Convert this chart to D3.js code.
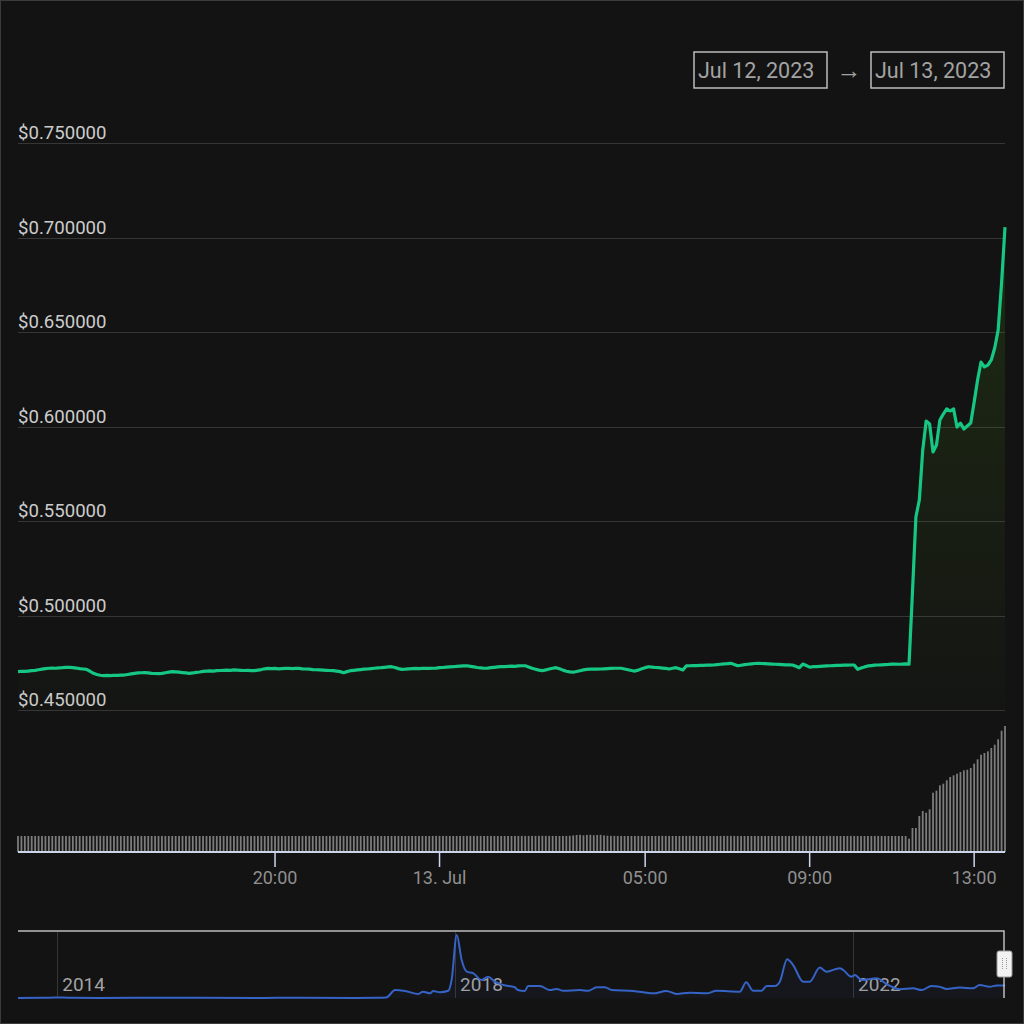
<!DOCTYPE html>
<html>
<head>
<meta charset="utf-8">
<script src="https://cdn.jsdelivr.net/npm/d3@7"></script>
<style>
  html, body { margin: 0; padding: 0; background: #131313; }
  svg { display: block; font-family: Roboto, "Noto Sans", sans-serif; }
</style>
</head>
<body>
<div id="chart"></div>
<script>
// 5 minute samples, Jul 12 13:45 -> Jul 13 13:45
var startTime = new Date(2023, 6, 12, 13, 45);
var stepMinutes = 5;

var prices = [
  0.4703, 0.4705, 0.4704, 0.4706, 0.4708, 0.4710, 0.4713, 0.4716, 0.4719, 0.4721, 0.4722, 0.4721,
  0.4723, 0.4724, 0.4726, 0.4726, 0.4724, 0.4722, 0.4719, 0.4717, 0.4715, 0.4705, 0.4694, 0.4688,
  0.4684, 0.4682, 0.4683, 0.4682, 0.4684, 0.4683, 0.4685, 0.4685, 0.4688, 0.4691, 0.4694, 0.4696,
  0.4697, 0.4698, 0.4696, 0.4694, 0.4693, 0.4692, 0.4694, 0.4697, 0.4700, 0.4703, 0.4702, 0.4700,
  0.4698, 0.4696, 0.4694, 0.4696, 0.4699, 0.4701, 0.4704, 0.4706, 0.4707, 0.4706, 0.4708, 0.4709,
  0.4710, 0.4711, 0.4710, 0.4712, 0.4711, 0.4710, 0.4709, 0.4710, 0.4708, 0.4708, 0.4711, 0.4714,
  0.4718, 0.4720, 0.4719, 0.4720, 0.4718, 0.4719, 0.4720, 0.4721, 0.4719, 0.4720, 0.4720, 0.4718,
  0.4717, 0.4716, 0.4714, 0.4713, 0.4712, 0.4711, 0.4710, 0.4709, 0.4708, 0.4706, 0.4703, 0.4697,
  0.4703, 0.4708, 0.4710, 0.4712, 0.4714, 0.4716, 0.4717, 0.4719, 0.4721, 0.4723, 0.4724, 0.4726,
  0.4728, 0.4729, 0.4725, 0.4719, 0.4715, 0.4716, 0.4718, 0.4719, 0.4720, 0.4719, 0.4720, 0.4721,
  0.4720, 0.4721, 0.4722, 0.4724, 0.4725, 0.4727, 0.4728, 0.4729, 0.4731, 0.4732, 0.4733, 0.4734,
  0.4731, 0.4728, 0.4725, 0.4723, 0.4721, 0.4722, 0.4724, 0.4726, 0.4728, 0.4729, 0.4730, 0.4731,
  0.4732, 0.4731, 0.4733, 0.4734, 0.4734, 0.4728, 0.4721, 0.4716, 0.4711, 0.4708, 0.4712, 0.4717,
  0.4721, 0.4724, 0.4718, 0.4711, 0.4705, 0.4702, 0.4700, 0.4704, 0.4708, 0.4712, 0.4715, 0.4716,
  0.4717, 0.4716, 0.4717, 0.4718, 0.4719, 0.4720, 0.4721, 0.4721, 0.4721, 0.4717, 0.4713, 0.4709,
  0.4706, 0.4711, 0.4718, 0.4724, 0.4729, 0.4727, 0.4725, 0.4724, 0.4722, 0.4720, 0.4717, 0.4721,
  0.4724, 0.4718, 0.4712, 0.4733, 0.4734, 0.4735, 0.4735, 0.4736, 0.4736, 0.4737, 0.4737, 0.4738,
  0.4740, 0.4742, 0.4744, 0.4745, 0.4747, 0.4741, 0.4734, 0.4737, 0.4740, 0.4742, 0.4744, 0.4746,
  0.4747, 0.4746, 0.4745, 0.4744, 0.4743, 0.4742, 0.4741, 0.4740, 0.4739, 0.4739, 0.4738, 0.4731,
  0.4724, 0.4743, 0.4735, 0.4727, 0.4729, 0.4730, 0.4731, 0.4732, 0.4733, 0.4734, 0.4735, 0.4736,
  0.4736, 0.4737, 0.4737, 0.4738, 0.4738, 0.4715, 0.4722, 0.4728, 0.4733, 0.4735, 0.4737, 0.4738,
  0.4739, 0.4740, 0.4741, 0.4743, 0.4743, 0.4742, 0.4743, 0.4744, 0.4743,
  0.5124, 0.5521, 0.5611, 0.5876, 0.6029, 0.6013, 0.5865, 0.5902, 0.6034, 0.6066, 0.6093, 0.6082,
  0.6093, 0.5997, 0.6018, 0.5987, 0.6003, 0.6018, 0.6129, 0.6246, 0.6341, 0.6315, 0.6325, 0.6352,
  0.6415, 0.6510, 0.6759, 0.7055
];

// 24h volume, millions USD
var volumes = [
  700, 702, 701, 703, 700, 699, 701, 702, 700, 698, 700, 701, 703, 702, 700, 699, 700, 701, 702, 700,
  701, 703, 706, 708, 707, 705, 704, 703, 702, 701, 700, 701, 700, 699, 700, 701, 702, 701, 700, 699,
  700, 701, 702, 701, 700, 699, 700, 701, 700, 702, 703, 702, 701, 700, 699, 700, 701, 700, 701, 702,
  703, 702, 701, 700, 699, 698, 697, 698, 699, 700, 701, 700, 699, 700, 701, 702, 701, 700, 699, 698,
  699, 700, 701, 702, 703, 702, 701, 700, 699, 700, 701, 702, 703, 704, 705, 704, 703, 702, 701, 700,
  701, 702, 703, 702, 701, 700, 699, 700, 701, 702, 703, 702, 701, 700, 699, 700, 701, 702, 701, 700,
  701, 702, 703, 704, 703, 702, 701, 700, 701, 702, 703, 704, 705, 704, 703, 702, 701, 702, 703, 702,
  701, 700, 699, 700, 701, 702, 703, 704, 703, 702, 703, 705, 707, 708, 706, 704, 703, 702, 701, 702,
  704, 708, 725, 745, 750, 730, 748, 752, 735, 745, 750, 725, 712, 706, 704, 703, 702, 701, 700, 701,
  702, 703, 702, 701, 700, 701, 702, 703, 704, 703, 702, 701, 700, 701, 702, 703, 704, 703, 702, 701,
  700, 699, 700, 701, 702, 703, 704, 705, 704, 703, 702, 701, 700, 701, 702, 701, 700, 699, 700, 701,
  702, 703, 702, 701, 700, 701, 702, 703, 704, 703, 702, 701, 700, 699, 700, 701, 702, 703, 702, 701,
  700, 701, 702, 703, 702, 701, 700, 699, 700, 701, 702, 703, 702, 701, 700, 701, 702, 701, 700, 699,
  582, 1050, 1050, 1575, 1794, 1719, 1868, 2594, 2682, 2918, 2988, 3137, 3281, 3355, 3425, 3500,
  3574, 3600, 3675, 3863, 4055, 4256, 4331, 4405, 4550, 4694, 4930, 5306, 5512
];

var priceTicks = [0.45, 0.50, 0.55, 0.60, 0.65, 0.70, 0.75];
var timeTicks = [
  new Date(2023, 6, 12, 20, 0),
  new Date(2023, 6, 13, 0, 0),
  new Date(2023, 6, 13, 5, 0),
  new Date(2023, 6, 13, 9, 0),
  new Date(2023, 6, 13, 13, 0)
];
var rangeLabels = ["Jul 12, 2023", "Jul 13, 2023"];

// navigator: full history
var navDates = [
  "2013-08-10", "2013-11-15", "2013-12-20", "2014-02-10", "2014-06-01", "2015-01-10", "2015-06-01",
  "2016-01-01", "2016-06-01", "2017-01-01", "2017-03-20", "2017-04-23", "2017-05-26", "2017-07-01",
  "2017-08-19", "2017-09-05", "2017-10-01", "2017-10-12", "2017-11-06", "2017-12-07", "2017-12-19",
  "2018-01-07", "2018-01-25", "2018-02-13", "2018-03-08", "2018-04-08", "2018-05-02", "2018-05-27",
  "2018-06-27", "2018-08-08", "2018-08-19", "2018-09-14", "2018-09-26", "2018-11-08", "2018-12-15",
  "2019-01-09", "2019-02-02", "2019-04-04", "2019-05-05", "2019-06-05", "2019-07-05", "2019-07-30",
  "2019-10-17", "2019-12-29", "2020-02-16", "2020-03-24", "2020-05-12", "2020-07-12", "2020-08-18",
  "2020-11-11", "2020-12-05", "2020-12-30", "2021-01-30", "2021-02-18", "2021-03-20", "2021-04-07",
  "2021-05-04", "2021-05-26", "2021-07-02", "2021-07-26", "2021-09-01", "2021-09-26", "2021-11-13",
  "2021-11-26", "2021-12-26", "2022-01-08", "2022-02-01", "2022-03-28", "2022-05-10", "2022-06-22",
  "2022-08-10", "2022-09-10", "2022-10-16", "2022-11-15", "2022-12-10", "2023-01-28", "2023-03-17",
  "2023-04-11", "2023-05-18", "2023-06-12", "2023-07-06", "2023-07-13"
];
var navPrices = [
  0.006, 0.008, 0.03, 0.02, 0.006, 0.02, 0.01,
  0.006, 0.008, 0.006, 0.01, 0.03, 0.43, 0.38,
  0.22, 0.34, 0.25, 0.38, 0.31, 0.39, 0.97,
  3.40, 2.05, 1.42, 1.34, 0.97, 1.15, 0.88,
  0.70, 0.58, 0.43, 0.38, 0.65, 0.65, 0.43,
  0.49, 0.39, 0.43, 0.39, 0.58, 0.58, 0.43,
  0.38, 0.25, 0.38, 0.22, 0.29, 0.25, 0.39,
  0.34, 0.85, 0.39, 0.39, 0.65, 0.65, 0.88,
  2.09, 1.78, 0.88, 0.88, 1.64, 1.42, 1.61,
  1.51, 1.15, 1.24, 0.97, 1.06, 0.70, 0.47,
  0.52, 0.43, 0.65, 0.61, 0.49, 0.56, 0.52,
  0.70, 0.61, 0.67, 0.67, 0.70
];
var navYears = [2014, 2018, 2022];

var width = 1024,
    height = 1024,
    left = 18,
    right = 1005;

var data = prices.map(function (p, i) {
  return { t: d3.timeMinute.offset(startTime, i * stepMinutes), price: p, vol: volumes[i] };
});

var parseDay = d3.timeParse("%Y-%m-%d");
var navData = navDates.map(function (d, i) { return { t: parseDay(d), price: navPrices[i] }; });

var svg = d3.select("#chart").append("svg")
    .attr("width", width)
    .attr("height", height);

svg.append("rect")
    .attr("x", 0.5).attr("y", 0.5)
    .attr("width", width - 1).attr("height", height - 1)
    .attr("fill", "#131313")
    .attr("stroke", "#3c3c3c");

var x = d3.scaleTime()
    .domain(d3.extent(data, function (d) { return d.t; }))
    .range([left, right]);

var y = d3.scaleLinear()
    .domain([0.45, 0.75])
    .range([710, 143]);

var yVol = d3.scaleLinear()
    .domain([0, 5600])
    .range([852, 724]);

/* ------- grid + price labels ------- */
var grid = svg.append("g");
grid.selectAll("line")
    .data(priceTicks)
    .enter().append("line")
    .attr("x1", left).attr("x2", right)
    .attr("y1", function (d) { return Math.round(y(d)) + 0.5; })
    .attr("y2", function (d) { return Math.round(y(d)) + 0.5; })
    .attr("stroke", "#363636")
    .attr("stroke-width", 1);

grid.selectAll("text")
    .data(priceTicks)
    .enter().append("text")
    .attr("x", left)
    .attr("y", function (d) { return y(d) - 4; })
    .attr("fill", "#cccccc")
    .style("font-size", "18.6px")
    .text(function (d) { return "$" + d.toFixed(6); });

/* ------- volume bars ------- */
svg.append("g").selectAll("rect")
    .data(data)
    .enter().append("rect")
    .attr("x", function (d) { return x(d.t) - 0.9; })
    .attr("width", 1.8)
    .attr("y", function (d) { return yVol(d.vol); })
    .attr("height", function (d) { return yVol(0) - yVol(d.vol); })
    .attr("fill", "#7c7c7c");

/* ------- price area + line ------- */
var defs = svg.append("defs");
var grad = defs.append("linearGradient")
    .attr("id", "areaFill")
    .attr("gradientUnits", "userSpaceOnUse")
    .attr("x1", 0).attr("x2", 0)
    .attr("y1", y(0.7055)).attr("y2", y(0.45));
grad.append("stop").attr("offset", 0).attr("stop-color", "rgb(70,130,20)").attr("stop-opacity", 0.22);
grad.append("stop").attr("offset", 1).attr("stop-color", "rgb(70,130,20)").attr("stop-opacity", 0.02);

var area = d3.area()
    .x(function (d) { return x(d.t); })
    .y0(y(0.45))
    .y1(function (d) { return y(d.price); });

var line = d3.line()
    .x(function (d) { return x(d.t); })
    .y(function (d) { return y(d.price); });

svg.append("path")
    .datum(data)
    .attr("d", area)
    .attr("fill", "url(#areaFill)");

svg.append("path")
    .datum(data)
    .attr("d", line)
    .attr("fill", "none")
    .attr("stroke", "#16c784")
    .attr("stroke-width", 3.2)
    .attr("stroke-linejoin", "round");

/* ------- x axis ------- */
var xAxis = svg.append("g");
xAxis.append("line")
    .attr("x1", left).attr("x2", right)
    .attr("y1", 852).attr("y2", 852)
    .attr("stroke", "#ccd6eb")
    .attr("stroke-width", 2);

var fmtHour = d3.timeFormat("%H:%M"),
    fmtDay = d3.timeFormat("%-d. %b");

var tick = xAxis.selectAll("g.tick")
    .data(timeTicks)
    .enter().append("g")
    .attr("class", "tick")
    .attr("transform", function (d) { return "translate(" + x(d) + ",0)"; });

tick.append("line")
    .attr("y1", 852).attr("y2", 867)
    .attr("stroke", "#ccd6eb")
    .attr("stroke-width", 1.5);

tick.append("text")
    .attr("y", 884)
    .attr("text-anchor", "middle")
    .attr("fill", "#8f8f8f")
    .style("font-size", "18px")
    .text(function (d) {
      return (d.getHours() === 0 && d.getMinutes() === 0) ? fmtDay(d) : fmtHour(d);
    });

/* ------- range selector boxes ------- */
var boxes = [{ x: 694, label: rangeLabels[0] }, { x: 871, label: rangeLabels[1] }];
var rs = svg.append("g").selectAll("g")
    .data(boxes)
    .enter().append("g")
    .attr("transform", function (d) { return "translate(" + d.x + ",52)"; });

rs.append("rect")
    .attr("width", 133).attr("height", 36)
    .attr("fill", "#131313")
    .attr("stroke", "#bdbdbd")
    .attr("stroke-width", 1.5);

rs.append("text")
    .attr("x", 4).attr("y", 26)
    .attr("fill", "#a3a3a3")
    .style("font-size", "21.5px")
    .text(function (d) { return d.label; });

svg.append("text")
    .attr("x", 849).attr("y", 79)
    .attr("text-anchor", "middle")
    .attr("fill", "#a3a3a3")
    .style("font-size", "25px")
    .text("→");

/* ------- navigator ------- */
var xNav = d3.scaleTime()
    .domain([parseDay("2013-08-10"), parseDay("2023-07-13")])
    .range([left, right]);

var yNav = d3.scaleLinear()
    .domain([0, 3.4])
    .range([998, 935]);

var nav = svg.append("g");

nav.selectAll("line.year")
    .data(navYears)
    .enter().append("line")
    .attr("class", "year")
    .attr("x1", function (d) { return Math.round(xNav(new Date(d, 0, 1))) + 0.5; })
    .attr("x2", function (d) { return Math.round(xNav(new Date(d, 0, 1))) + 0.5; })
    .attr("y1", 932).attr("y2", 998)
    .attr("stroke", "#363636");

nav.selectAll("text.year")
    .data(navYears)
    .enter().append("text")
    .attr("class", "year")
    .attr("x", function (d) { return xNav(new Date(d, 0, 1)) + 5; })
    .attr("y", 991)
    .attr("fill", "#a3a3a3")
    .style("font-size", "19px")
    .text(function (d) { return d; });

var navArea = d3.area()
    .curve(d3.curveMonotoneX)
    .x(function (d) { return xNav(d.t); })
    .y0(998)
    .y1(function (d) { return yNav(d.price); });

var navLine = d3.line()
    .curve(d3.curveMonotoneX)
    .x(function (d) { return xNav(d.t); })
    .y(function (d) { return yNav(d.price); });

nav.append("path")
    .datum(navData)
    .attr("d", navArea)
    .attr("fill", "rgba(51,102,204,0.05)");

nav.append("path")
    .datum(navData)
    .attr("d", navLine)
    .attr("fill", "none")
    .attr("stroke", "#3563c6")
    .attr("stroke-width", 2);

// outline around selected range (last day)
nav.append("path")
    .attr("d", "M" + left + ",931 H" + (right - 1) + " V998")
    .attr("fill", "none")
    .attr("stroke", "#bdbdbd")
    .attr("stroke-width", 1.5);

var handle = nav.append("g").attr("transform", "translate(997,951)");
handle.append("rect")
    .attr("width", 15).attr("height", 26)
    .attr("rx", 2)
    .attr("fill", "#f2f2f2")
    .attr("stroke", "#999999");
handle.selectAll("line")
    .data([5.5, 9.5])
    .enter().append("line")
    .attr("x1", function (d) { return d; }).attr("x2", function (d) { return d; })
    .attr("y1", 7).attr("y2", 19)
    .attr("stroke", "#999999")
    .attr("stroke-dasharray", "1,1");
</script>
</body>
</html>
